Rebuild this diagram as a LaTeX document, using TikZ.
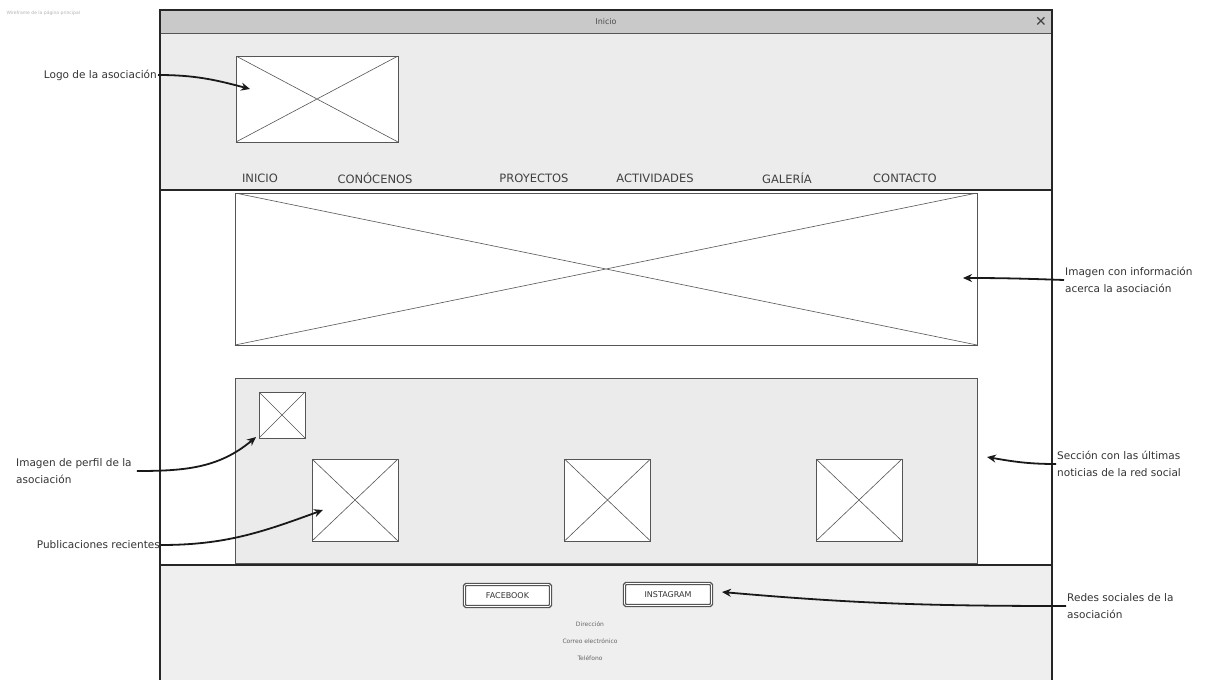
\documentclass[tikz,border=0pt]{standalone}
\usepackage{fontspec}
\setmainfont{DejaVu Sans}
\usetikzlibrary{arrows.meta}
\definecolor{barc}{HTML}{C9C9C9}
\definecolor{headc}{HTML}{ECECEC}
\definecolor{secc}{HTML}{EBEBEB}
\definecolor{footc}{HTML}{EFEFEF}
\definecolor{edgec}{HTML}{555555}
\tikzset{
  ph/.style={draw=edgec, line width=1pt, fill=white, inner sep=0pt,
    path picture={\draw[edgec, line width=0.6pt] (path picture bounding box.north west) -- (path picture bounding box.south east)
      (path picture bounding box.south west) -- (path picture bounding box.north east);}},
  ann/.style={font=\fontsize{10.5}{17}\selectfont, align=left, inner sep=1pt, text=black!80},
  nav/.style={font=\fontsize{11.5}{13}\selectfont, text=black!75},
  foot/.style={font=\fontsize{6}{7}\selectfont, text=black!60},
  btn/.style={draw=edgec, line width=1.4pt, double=white, double distance=0.6pt, fill=white, rounded corners=1.5pt, font=\fontsize{8}{9}\selectfont, text=black!80, inner sep=0pt},
  arr/.style={-{Stealth[length=9pt,width=8pt]}, line width=1.8pt, black!90}
}
\begin{document}
\begin{tikzpicture}[x=1pt,y=-1pt]
\useasboundingbox[fill=white] (0,0) rectangle (1211,680);
% window
\fill[headc] (160,33) rectangle (1052,190);
\fill[white] (160,190) rectangle (1052,565);
\fill[footc] (160,565) rectangle (1052,680);
\fill[barc] (160,10) rectangle (1052,33);
\draw[edgec, line width=1pt] (160,33) -- (1052,33);
\draw[black!85, line width=1.4pt] (160,190) -- (1052,190);
\draw[black!85, line width=1.2pt] (160,565) -- (1052,565);
\draw[black!85, line width=1.6pt] (160,682) -- (160,10) -- (1052,10) -- (1052,682);
\node[font=\fontsize{8}{9}\selectfont, text=black!70] (title) at (606,22) {Inicio};
\node[font=\bfseries\fontsize{14}{14}\selectfont, text=black!75] (close) at (1041,22) {✕};
\node[font=\fontsize{4.5}{5}\selectfont, text=black!30, anchor=west] (file) at (3,13) {Wireframe de la página principal};
% header
\node[ph, minimum width=162, minimum height=86] (logo) at (317,99) {};
\node[nav] (n1) at (260,178) {INICIO};
\node[nav] (n2) at (375,178) {CONÓCENOS};
\node[nav] (n3) at (534,178) {PROYECTOS};
\node[nav] (n4) at (655,178) {ACTIVIDADES};
\node[nav] (n5) at (787,178) {GALERÍA};
\node[nav] (n6) at (905,178) {CONTACTO};
% main image
\node[ph, minimum width=742, minimum height=152] (hero) at (606,269) {};
% social section
\node[draw=edgec, line width=0.9pt, fill=secc, minimum width=742, minimum height=185, inner sep=0pt] (sec) at (606,470.5) {};
\node[ph, minimum width=46, minimum height=46] (prof) at (282,415) {};
\node[ph, minimum width=86, minimum height=82] (p1) at (355,500) {};
\node[ph, minimum width=86, minimum height=82] (p2) at (607.5,500) {};
\node[ph, minimum width=86, minimum height=82] (p3) at (859,500) {};
% footer
\node[btn, minimum width=86, minimum height=22] (fb) at (507.5,595.5) {FACEBOOK};
\node[btn, minimum width=87, minimum height=22] (ig) at (668,594.5) {INSTAGRAM};
\node[foot] (f1) at (590,624) {Dirección};
\node[foot] (f2) at (590,641) {Correo electrónico};
\node[foot] (f3) at (590,658) {Teléfono};
% annotations
\node[ann, anchor=east] (alogo) at (158,75) {Logo de la asociación};
\node[ann, anchor=west] (ahero) at (1064,280) {Imagen con información\\acerca la asociación};
\node[ann, anchor=west] (asec) at (1056,464) {Sección con las últimas\\noticias de la red social};
\node[ann, anchor=west] (aprof) at (15,471) {Imagen de perfil de la\\asociación};
\node[ann, anchor=east] (apub) at (161,545) {Publicaciones recientes};
\node[ann, anchor=west] (ared) at (1066,606) {Redes sociales de la\\asociación};
% arrow targets
\coordinate (tlogo) at (250,89);
\coordinate (thero) at (963,278);
\coordinate (tsec) at (987,457);
\coordinate (tprof) at (256,437);
\coordinate (tpub) at (323,510);
\coordinate (tred) at (722,592);
\draw[arr] (alogo.east) to[out=0, in=165] (tlogo);
\draw[arr] (ahero.west) to[out=178, in=0] (thero);
\draw[arr] (asec.west) to[out=180, in=-10] (tsec);
\draw[arr] ([xshift=4pt]aprof.east) to[out=0, in=-140] (tprof);
\draw[arr] (apub.east) to[out=0, in=-160] (tpub);
\draw[arr] (ared.west) to[out=180, in=-5] (tred);
\end{tikzpicture}
\end{document}
